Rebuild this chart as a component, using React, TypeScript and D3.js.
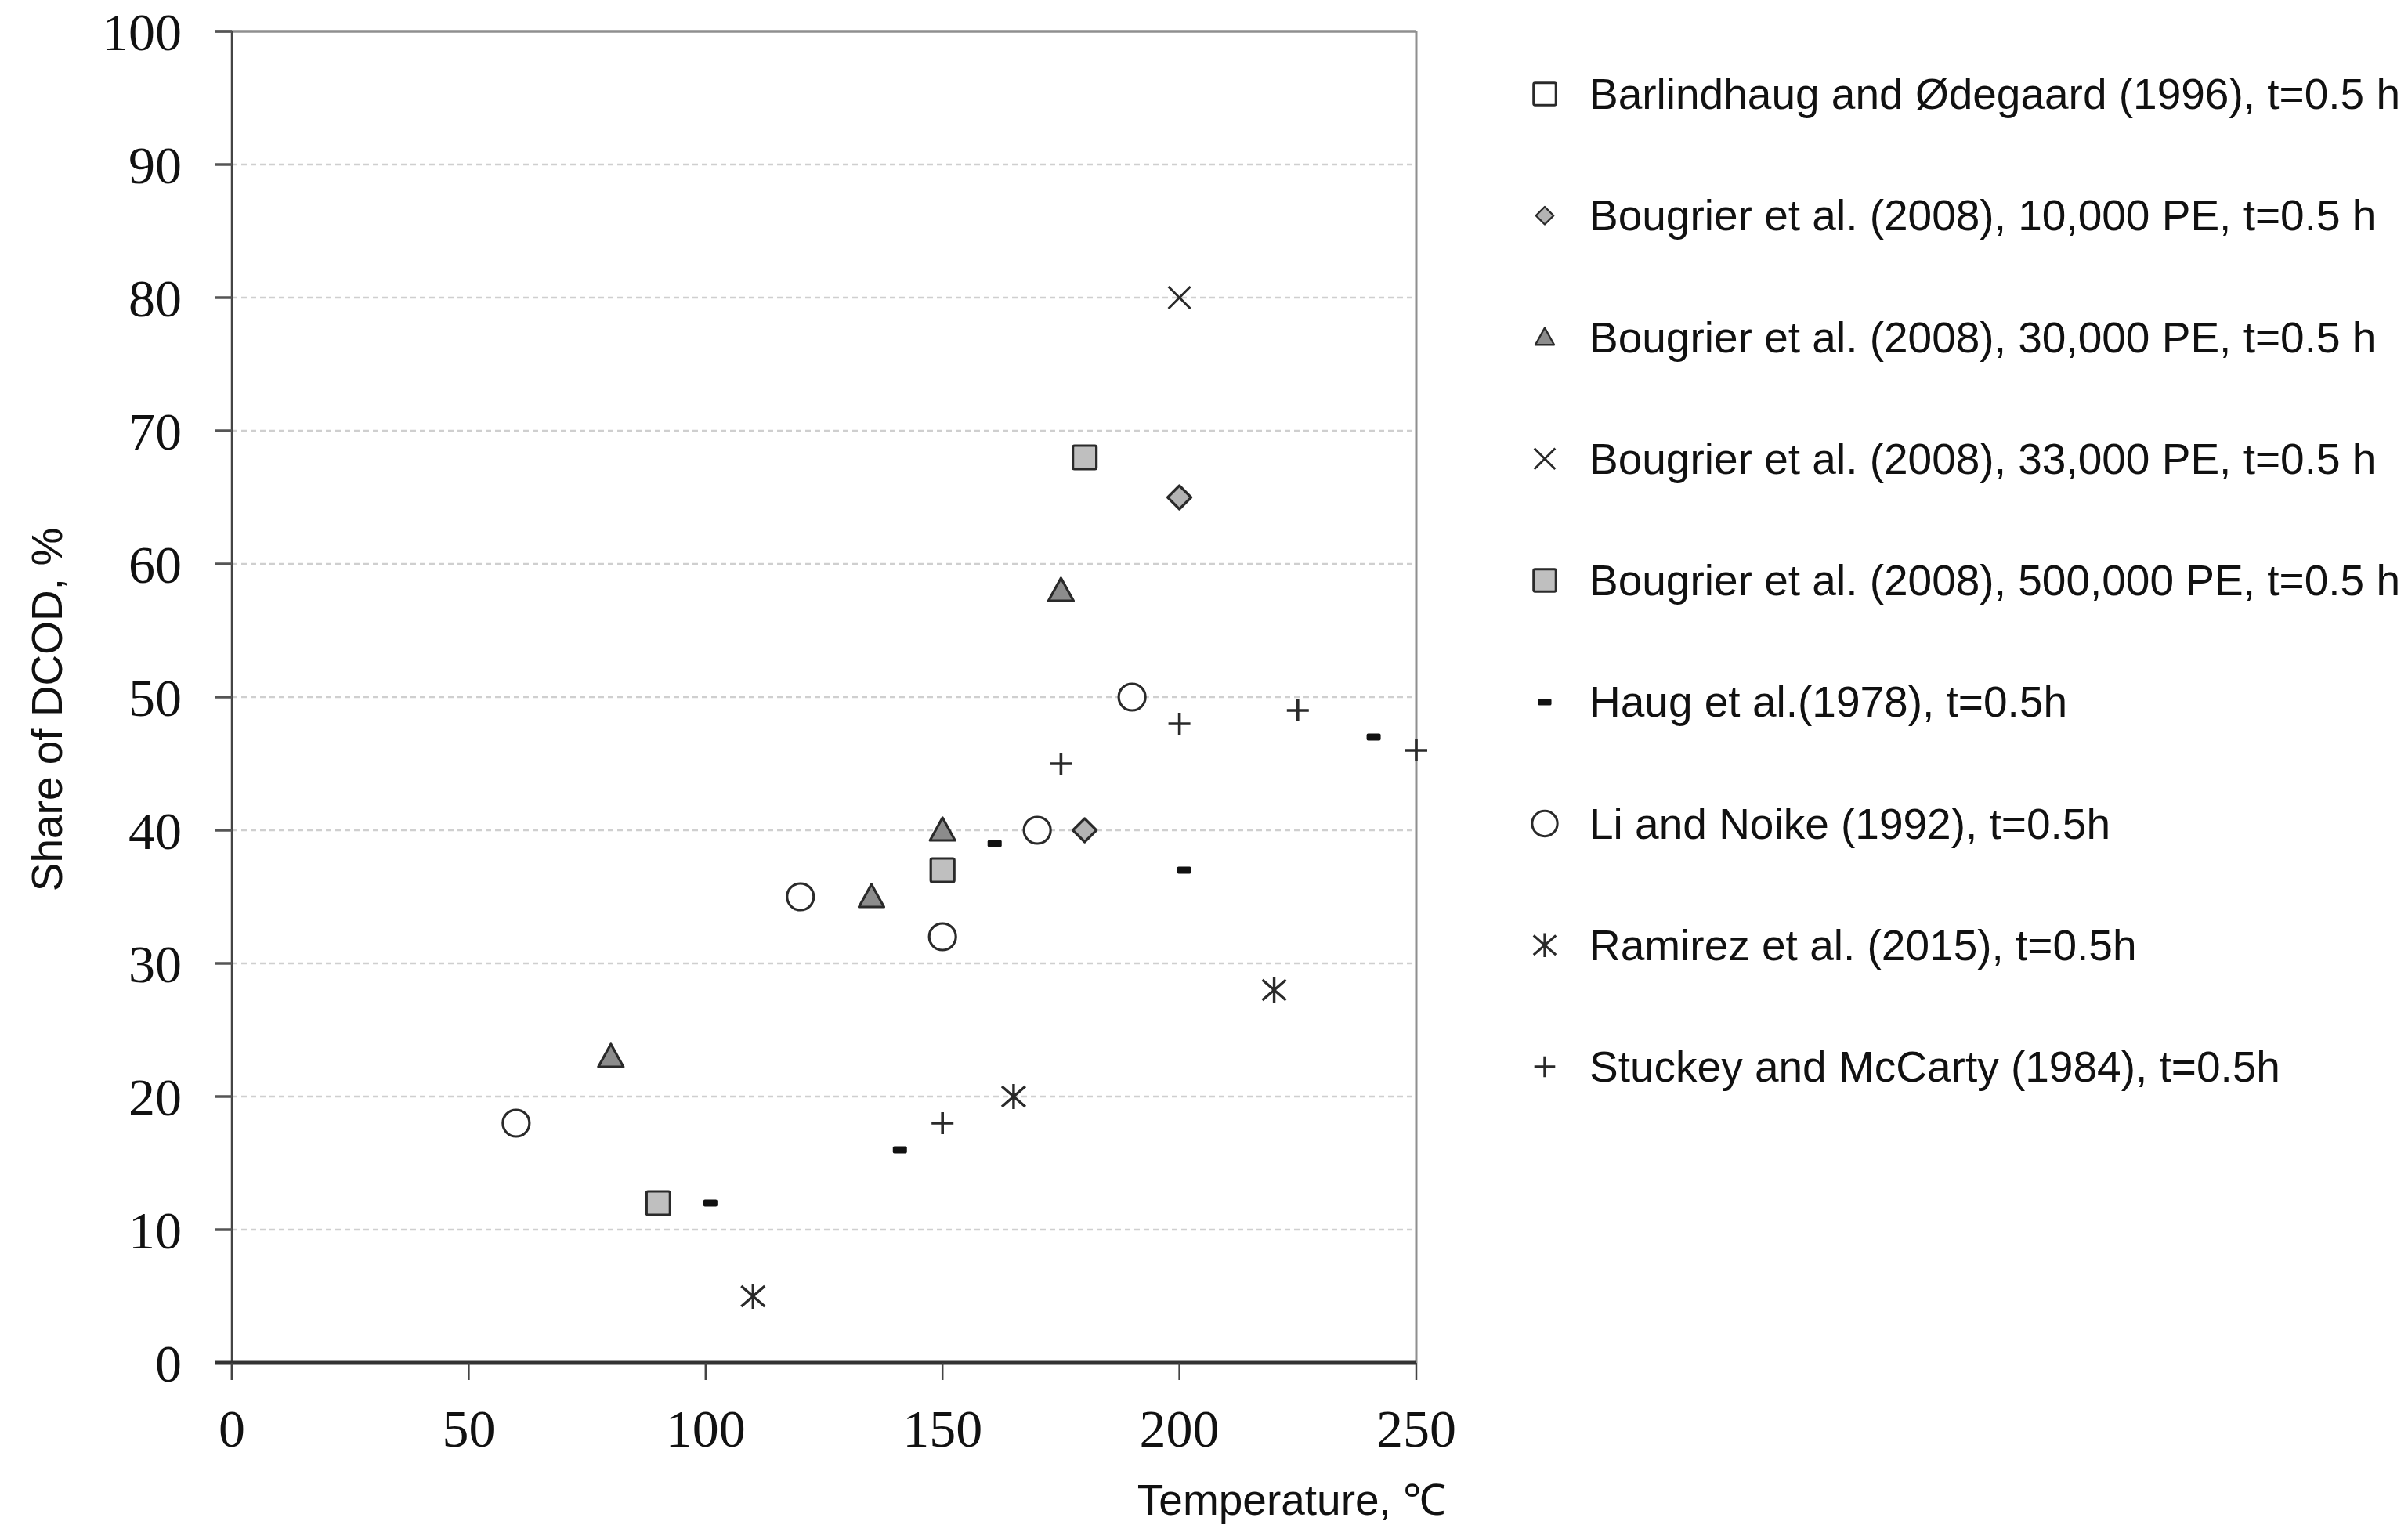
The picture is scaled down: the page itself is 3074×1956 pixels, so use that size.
import React from "react";
import * as d3 from "d3";

// Thermal hydrolysis: share of dissolved COD vs temperature (t = 0.5 h)

type Pt = [number, number];

const BARLINDHAUG: Pt[] = [];
const BOUGRIER_10K: Pt[] = [[180, 40], [200, 65]];
const BOUGRIER_30K: Pt[] = [[80, 23], [135, 35], [150, 40], [175, 58]];
const BOUGRIER_33K: Pt[] = [[200, 80]];
const BOUGRIER_500K: Pt[] = [[90, 12], [150, 37], [180, 68]];
const HAUG: Pt[] = [[101, 12], [141, 16], [161, 39], [201, 37], [241, 47]];
const LI_NOIKE: Pt[] = [[60, 18], [120, 35], [150, 32], [170, 40], [190, 50]];
const RAMIREZ: Pt[] = [[110, 5], [165, 20], [220, 28]];
const STUCKEY: Pt[] = [[150, 18], [175, 45], [200, 48], [225, 49], [250, 46]];

const X_TICKS = [0, 50, 100, 150, 200, 250];
const Y_TICKS = [0, 10, 20, 30, 40, 50, 60, 70, 80, 90, 100];

type Kind = "openSquare" | "diamond" | "triangle" | "x" | "graySquare" | "dash" | "circle" | "asterisk" | "plus";

interface Series {
  label: string;
  kind: Kind;
  data: Pt[];
}

const SERIES: Series[] = [
  { label: "Barlindhaug and Ødegaard (1996), t=0.5 h", kind: "openSquare", data: BARLINDHAUG },
  { label: "Bougrier et al. (2008), 10,000 PE, t=0.5 h", kind: "diamond", data: BOUGRIER_10K },
  { label: "Bougrier et al. (2008), 30,000 PE, t=0.5 h", kind: "triangle", data: BOUGRIER_30K },
  { label: "Bougrier et al. (2008), 33,000 PE, t=0.5 h", kind: "x", data: BOUGRIER_33K },
  { label: "Bougrier et al. (2008), 500,000 PE, t=0.5 h", kind: "graySquare", data: BOUGRIER_500K },
  { label: "Haug et al.(1978), t=0.5h", kind: "dash", data: HAUG },
  { label: "Li and Noike (1992), t=0.5h", kind: "circle", data: LI_NOIKE },
  { label: "Ramirez et al. (2015), t=0.5h", kind: "asterisk", data: RAMIREZ },
  { label: "Stuckey and McCarty (1984), t=0.5h", kind: "plus", data: STUCKEY },
];

const W = 3074;
const H = 1956;
const PLOT = { left: 296, right: 1808, top: 40, bottom: 1740 };

const INK = "#2a2a2a";
const SANS = "Liberation Sans, Arial, sans-serif";
const SERIF = "Liberation Serif, Times New Roman, serif";

const Marker: React.FC<{ kind: Kind; cx: number; cy: number; s?: number }> = ({ kind, cx, cy, s = 1 }) => {
  const t = `translate(${cx},${cy}) scale(${s})`;
  switch (kind) {
    case "openSquare":
    case "graySquare":
      return (
        <rect
          transform={t}
          x={-15} y={-15} width={30} height={30} rx={2}
          fill={kind === "graySquare" ? "#bfbfbf" : "#fff"}
          stroke={INK} strokeWidth={3.2}
        />
      );
    case "diamond":
      return (
        <path transform={t} d="M0,-15L15,0L0,15L-15,0Z" fill="#b3b3b3" stroke={INK} strokeWidth={3.2} strokeLinejoin="round" />
      );
    case "triangle":
      return (
        <path transform={t} d="M0,-16L16,13L-16,13Z" fill="#8c8c8c" stroke={INK} strokeWidth={3.2} strokeLinejoin="round" />
      );
    case "x":
      return (
        <path transform={t} d="M-14,-14L14,14M14,-14L-14,14" stroke={INK} strokeWidth={3} fill="none" />
      );
    case "dash":
      return <rect transform={t} x={-9} y={-4.5} width={18} height={9} rx={2} fill="#111" />;
    case "circle":
      return <circle transform={t} r={17} fill="#fff" stroke={INK} strokeWidth={3.2} />;
    case "asterisk":
      return (
        <path transform={t} d="M0,-16L0,16M-15,-13L15,13M15,-13L-15,13" stroke={INK} strokeWidth={3.4} fill="none" />
      );
    case "plus":
      return (
        <path transform={t} d="M0,-14L0,14M-14,0L14,0" stroke={INK} strokeWidth={3.6} fill="none" />
      );
  }
  return null;
};

const App: React.FC = () => {
  const x = d3.scaleLinear().domain([0, 250]).range([PLOT.left, PLOT.right]);
  const y = d3.scaleLinear().domain([0, 100]).range([PLOT.bottom, PLOT.top]);

  const legendY = d3.scalePoint<number>().domain(SERIES.map((_, i) => i)).range([120, 1362]);

  return (
    <svg
      width={W}
      height={H}
      viewBox={`0 0 ${W} ${H}`}
      style={{ position: "absolute", left: 0, top: 0, background: "#fff" }}
    >
      <rect width={W} height={H} fill="#fff" />

      {/* dashed grid */}
      {Y_TICKS.filter((t) => t > 0 && t < 100).map((t) => (
        <line
          key={t}
          x1={PLOT.left} x2={PLOT.right} y1={y(t)} y2={y(t)}
          stroke="#cfcfcf" strokeWidth={2.5} strokeDasharray="7 5"
        />
      ))}

      {/* frame: top + right in gray */}
      <line x1={PLOT.left - 21} x2={PLOT.right} y1={y(100)} y2={y(100)} stroke="#8f8f8f" strokeWidth={3.5} />
      <line x1={PLOT.right} x2={PLOT.right} y1={y(100)} y2={y(0)} stroke="#8f8f8f" strokeWidth={3} />

      {/* y axis */}
      <line x1={PLOT.left} x2={PLOT.left} y1={y(100)} y2={y(0) + 22} stroke="#444" strokeWidth={2.5} />
      {Y_TICKS.map((t) => (
        <g key={t}>
          <line x1={PLOT.left - 21} x2={PLOT.left} y1={y(t)} y2={y(t)} stroke="#555" strokeWidth={3.5} />
          <text
            x={232} y={y(t)} dy="0.36em" textAnchor="end"
            fontFamily={SERIF} fontSize={68} fill="#111"
          >
            {t}
          </text>
        </g>
      ))}

      {/* x axis */}
      <line x1={PLOT.left - 21} x2={PLOT.right} y1={y(0)} y2={y(0)} stroke="#333" strokeWidth={5} />
      {X_TICKS.map((t) => (
        <g key={t}>
          <line x1={x(t)} x2={x(t)} y1={y(0)} y2={y(0) + 22} stroke="#444" strokeWidth={2.5} />
          <text x={x(t)} y={1847} textAnchor="middle" fontFamily={SERIF} fontSize={68} fill="#111">
            {t}
          </text>
        </g>
      ))}

      {/* axis titles */}
      <text x={1649} y={1934} textAnchor="middle" fontFamily={SANS} fontSize={55} fill="#111">
        Temperature, ℃
      </text>
      <text
        transform={`translate(79,906) rotate(-90)`}
        textAnchor="middle" fontFamily={SANS} fontSize={55} fill="#111"
      >
        Share of DCOD, %
      </text>

      {/* points */}
      {SERIES.map((s) =>
        s.data.map(([tx, v], i) => (
          <Marker key={`${s.kind}-${i}`} kind={s.kind} cx={x(tx)} cy={y(v)} />
        ))
      )}

      {/* legend */}
      {SERIES.map((s, i) => {
        const cy = legendY(i) ?? 0;
        const small = s.kind === "diamond" || s.kind === "triangle" ? 0.75 : 0.95;
        return (
          <g key={s.label}>
            <Marker kind={s.kind} cx={1972} cy={cy} s={small} />
            <text x={2029} y={cy + 19} fontFamily={SANS} fontSize={55} fill="#111">
              {s.label}
            </text>
          </g>
        );
      })}
    </svg>
  );
};

export default App;
